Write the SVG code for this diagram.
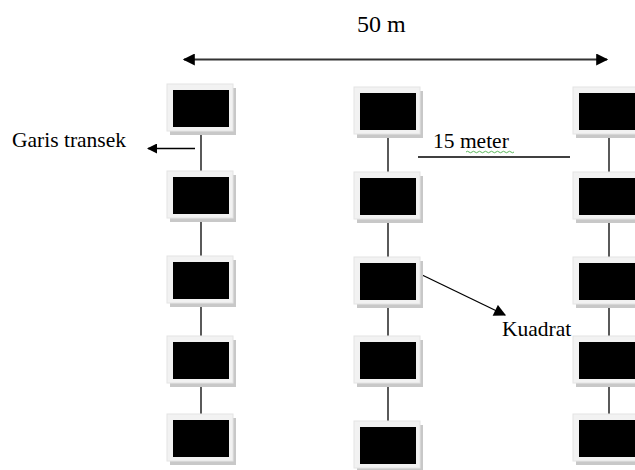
<svg xmlns="http://www.w3.org/2000/svg" xmlns:xlink="http://www.w3.org/1999/xlink" width="635" height="470" viewBox="0 0 635 470">
<style>
.t{font-family:"Liberation Serif","Times New Roman",serif;font-size:21.5px;fill:#000}
.ln{stroke:#000;stroke-width:1.3;fill:none}
</style>
<defs>
<g id="quad">
<rect x="3" y="4" width="66" height="47" fill="#c8c8c8"/>
<rect x="0" y="0" width="66" height="47" fill="#f2f2f2" stroke="#e4e4e4" stroke-width="1"/>
<rect x="6" y="6" width="56" height="37" fill="#000"/>
</g>
<marker id="ah" viewBox="0 0 10 10" refX="9" refY="5" markerWidth="10" markerHeight="10" markerUnits="userSpaceOnUse" orient="auto-start-reverse">
<path d="M0,0 L10,5 L0,10 z" fill="#000"/>
</marker>
<marker id="ah2" viewBox="0 0 10 10" refX="9" refY="5" markerWidth="14" markerHeight="12" markerUnits="userSpaceOnUse" orient="auto-start-reverse">
<path d="M0,0 L10,5 L0,10 z" fill="#000"/>
</marker>
</defs>
<g id="connectors">
<line class="ln" x1="201" y1="134" x2="201" y2="171"/>
<line class="ln" x1="201" y1="219" x2="201" y2="256"/>
<line class="ln" x1="201" y1="305" x2="201" y2="336"/>
<line class="ln" x1="201" y1="384" x2="201" y2="414"/>
<line class="ln" x1="388" y1="137" x2="388" y2="172"/>
<line class="ln" x1="388" y1="221" x2="388" y2="257"/>
<line class="ln" x1="388" y1="306" x2="388" y2="336"/>
<line class="ln" x1="388" y1="386" x2="388" y2="421"/>
<line class="ln" x1="609" y1="137" x2="609" y2="172"/>
<line class="ln" x1="609" y1="221" x2="609" y2="257"/>
<line class="ln" x1="609" y1="306" x2="609" y2="336"/>
<line class="ln" x1="609" y1="386" x2="609" y2="414"/>
<line x1="184" y1="59.5" x2="607" y2="59.5" stroke="#333" stroke-width="2" marker-start="url(#ah2)" marker-end="url(#ah2)"/>
<line class="ln" x1="195" y1="148.5" x2="148" y2="148.5" marker-end="url(#ah)"/>
<line class="ln" x1="418" y1="157" x2="570" y2="157"/>
<line class="ln" x1="418" y1="273" x2="505" y2="315" marker-end="url(#ah2)"/>
</g>
<g id="c1r1" transform="translate(167,84)"><use xlink:href="#quad"/></g>
<g id="c1r2" transform="translate(167,171)"><use xlink:href="#quad"/></g>
<g id="c1r3" transform="translate(167,256)"><use xlink:href="#quad"/></g>
<g id="c1r4" transform="translate(167,336)"><use xlink:href="#quad"/></g>
<g id="c1r5" transform="translate(167,414)"><use xlink:href="#quad"/></g>
<g id="c2r1" transform="translate(354,87)"><use xlink:href="#quad"/></g>
<g id="c2r2" transform="translate(354,172)"><use xlink:href="#quad"/></g>
<g id="c2r3" transform="translate(354,257)"><use xlink:href="#quad"/></g>
<g id="c2r4" transform="translate(354,336)"><use xlink:href="#quad"/></g>
<g id="c2r5" transform="translate(354,421)"><use xlink:href="#quad"/></g>
<g id="c3r1" transform="translate(573,87)"><use xlink:href="#quad"/></g>
<g id="c3r2" transform="translate(573,172)"><use xlink:href="#quad"/></g>
<g id="c3r3" transform="translate(573,257)"><use xlink:href="#quad"/></g>
<g id="c3r4" transform="translate(573,336)"><use xlink:href="#quad"/></g>
<g id="c3r5" transform="translate(573,414)"><use xlink:href="#quad"/></g>
<g id="labels">
<text class="t" x="357" y="32" style="font-size:24px">50 m</text>
<text class="t" x="12" y="147">Garis transek</text>
<text class="t" x="433" y="148">15 meter</text>
<path d="M466,152 q1.5,-1.5 3,0 t3,0 t3,0 t3,0 t3,0 t3,0 t3,0 t3,0 t3,0 t3,0 t3,0 t3,0 t3,0 t3,0 t3,0 t3,0" fill="none" stroke="#5cb85c" stroke-width="1"/>
<text class="t" x="502" y="336">Kuadrat</text>
</g>
</svg>
